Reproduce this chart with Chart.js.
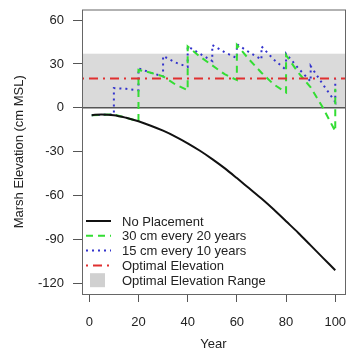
<!DOCTYPE html>
<html>
<head>
<meta charset="utf-8">
<script src="https://cdn.jsdelivr.net/npm/chart.js@4.4.1/dist/chart.umd.min.js"></script>
<style>
  body { margin: 0; background: #fff; }
</style>
</head>
<body>
<canvas id="grafica" width="353" height="352"></canvas>
<script>
// datos
const years = [1, 5, 10, 15, 20, 25, 30, 35, 40, 45, 50, 55, 60, 65, 70, 75, 80, 85, 90, 95, 100];
const noPlacement = [-5, -4.5, -5, -6.8, -9.2, -12.2, -15.6, -19.6, -24.2, -29.3, -35, -41.2, -48, -55, -62, -69.5, -77.5, -85.5, -94, -102.5, -111];

// 30 cm cada 20 años (los saltos repiten el año)
const greenYears = [1, 10, 15, 20, 20, 25, 30, 35, 40, 40, 45, 50, 55, 60, 60, 65, 70, 75, 80, 80, 85, 90, 95, 100, 100];
const greenElev  = [-5, -4.5, -6.8, -9.2, 26, 24, 21.5, 16, 12, 42, 35, 29, 23, 19, 43, 33, 24, 16, 10.5, 36, 24, 14, 0, -16, 13];

// 15 cm cada 10 años
const blueYears = [1, 10, 10, 15, 20, 20, 25, 30, 30, 35, 40, 40, 45, 50, 50, 55, 60, 60, 65, 70, 70, 75, 80, 80, 85, 90, 90, 95, 100, 100];
const blueElev  = [-5, -4.5, 13.5, 13, 12, 27, 24, 21.5, 35.5, 31, 28, 42, 37, 32, 43, 38, 34, 43.5, 38, 33, 42, 33, 26, 37, 27, 18, 28.5, 16, 4, 19.5];

const optimalElevation = 20;
const rangeLow = 0;
const rangeHigh = 37;

const xTicks = [0, 20, 40, 60, 80, 100];
const yTicks = [-120, -90, -60, -30, 0, 30, 60];

const labels = ["No Placement", "30 cm every 20 years", "15 cm every 10 years", "Optimal Elevation", "Optimal Elevation Range"];

const fuente = { family: "'Liberation Sans', Arial, sans-serif", size: 13 };
const colorTexto = "#222";

function puntos(xs, ys) {
    return xs.map((x, i) => ({ x: x, y: ys[i] }));
}

// banda gris, linea en cero, linea roja y caja del grafico
const fondo = {
    id: "fondo",
    beforeDatasetsDraw(chart) {
        const ctx = chart.ctx;
        const a = chart.chartArea;
        const y = chart.scales.y;
        ctx.save();
        ctx.fillStyle = "#dadada";
        const top = y.getPixelForValue(rangeHigh);
        const bot = y.getPixelForValue(rangeLow);
        ctx.fillRect(a.left, top, a.right - a.left, bot - top);
        ctx.strokeStyle = "#555";
        ctx.lineWidth = 1.5;
        ctx.beginPath();
        ctx.moveTo(a.left, bot);
        ctx.lineTo(a.right, bot);
        ctx.stroke();
        ctx.restore();
    },
    afterDatasetsDraw(chart) {
        const ctx = chart.ctx;
        const a = chart.chartArea;
        const yr = chart.scales.y.getPixelForValue(optimalElevation);
        ctx.save();
        ctx.strokeStyle = "#e03030";
        ctx.lineWidth = 2;
        ctx.setLineDash([2, 5, 9, 5]);
        ctx.beginPath();
        ctx.moveTo(a.left, yr);
        ctx.lineTo(a.right, yr);
        ctx.stroke();
        ctx.setLineDash([]);
        ctx.strokeStyle = "#666";
        ctx.lineWidth = 1;
        ctx.strokeRect(a.left + 0.5, a.top + 0.5, a.right - a.left, a.bottom - a.top);
        ctx.restore();
    }
};

// leyenda dentro del area, abajo a la izquierda
const leyenda = {
    id: "leyenda",
    afterDraw(chart) {
        const ctx = chart.ctx;
        const a = chart.chartArea;
        const estilos = [
            { color: "#111", dash: [] },
            { color: "#33dd33", dash: [7, 5] },
            { color: "#3333cc", dash: [2, 4] },
            { color: "#e03030", dash: [2, 5, 9, 5] },
            null
        ];
        ctx.save();
        ctx.font = "13px " + fuente.family;
        ctx.textBaseline = "middle";
        ctx.fillStyle = colorTexto;
        labels.forEach((txt, i) => {
            const y = a.bottom - 73 + i * 14.8;
            const x0 = a.left + 4;
            const e = estilos[i];
            if (e) {
                ctx.strokeStyle = e.color;
                ctx.lineWidth = 2;
                ctx.setLineDash(e.dash);
                ctx.beginPath();
                ctx.moveTo(x0, y);
                ctx.lineTo(x0 + 25, y);
                ctx.stroke();
                ctx.setLineDash([]);
            } else {
                ctx.fillStyle = "#d0d0d0";
                ctx.fillRect(x0 + 4, y - 7, 15, 14);
                ctx.fillStyle = colorTexto;
            }
            ctx.fillText(txt, a.left + 40, y + 1);
        });
        ctx.restore();
    }
};

const grafica = document.getElementById("grafica").getContext("2d");

const myChart = new Chart(grafica, {
    type: "line",
    data: {
        datasets: [
            {
                label: labels[0],
                data: puntos(years, noPlacement),
                borderColor: "#111",
                borderWidth: 2,
                pointRadius: 0,
                cubicInterpolationMode: "monotone"
            },
            {
                label: labels[1],
                data: puntos(greenYears, greenElev),
                borderColor: "#33dd33",
                borderWidth: 2,
                borderDash: [7, 5],
                pointRadius: 0,
                tension: 0
            },
            {
                label: labels[2],
                data: puntos(blueYears, blueElev),
                borderColor: "#3333cc",
                borderWidth: 2,
                borderDash: [2, 4],
                pointRadius: 0,
                tension: 0
            }
        ]
    },
    options: {
        responsive: false,
        animation: false,
        layout: { padding: { top: 9.5, right: 8, left: 0, bottom: 0 } },
        plugins: {
            legend: { display: false },
            tooltip: { enabled: false }
        },
        scales: {
            x: {
                type: "linear",
                min: -2.96,
                max: 103.96,
                afterBuildTicks: (s) => { s.ticks = xTicks.map(v => ({ value: v })); },
                afterFit: (s) => { s.height = 58; s.paddingLeft = 0; s.paddingRight = 0; },
                border: { display: false },
                grid: { drawOnChartArea: false, drawTicks: true, tickLength: 8, tickColor: "#555" },
                ticks: { font: fuente, color: colorTexto, padding: 13, maxRotation: 0 },
                title: { display: true, text: "Year", font: fuente, color: colorTexto, padding: { top: 0, bottom: 0 } }
            },
            y: {
                min: -127.2,
                max: 67.2,
                afterBuildTicks: (s) => { s.ticks = yTicks.map(v => ({ value: v })); },
                afterFit: (s) => { s.width = 82; s.paddingTop = 0; s.paddingBottom = 0; },
                border: { display: false },
                grid: { drawOnChartArea: false, drawTicks: true, tickLength: 9, tickColor: "#555" },
                ticks: { font: fuente, color: colorTexto, padding: 9 },
                title: { display: true, text: "Marsh Elevation (cm MSL)", font: fuente, color: colorTexto, padding: { top: 12, bottom: 0 } }
            }
        }
    },
    plugins: [fondo, leyenda]
});
</script>
</body>
</html>
